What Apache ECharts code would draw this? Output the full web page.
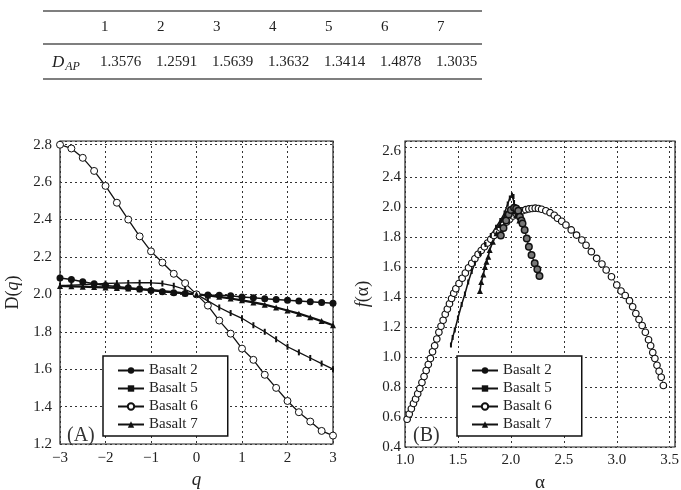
<!DOCTYPE html>
<html>
<head>
<meta charset="utf-8">
<script src="https://cdn.jsdelivr.net/npm/echarts@6/dist/echarts.min.js"></script>
<style>
  body { margin: 0; background: #fff; }
  #chart { width: 681px; height: 490px; }
</style>
</head>
<body>
<div id="chart"></div>
<script>
// table above the plots
const tableCols = ['1', '2', '3', '4', '5', '6', '7']
const dapValues = ['1.3576', '1.2591', '1.5639', '1.3632', '1.3414', '1.4878', '1.3035']

// (A) D(q) against q
const qVals = [-3, -2.75, -2.5, -2.25, -2, -1.75, -1.5, -1.25, -1, -0.75, -0.5, -0.25, 0,
  0.25, 0.5, 0.75, 1, 1.25, 1.5, 1.75, 2, 2.25, 2.5, 2.75, 3]
const dq2 = [2.088, 2.079, 2.067, 2.057, 2.048, 2.042, 2.036, 2.029, 2.021, 2.014, 2.009, 2.005, 2.0,
  1.996, 1.995, 1.993, 1.986, 1.982, 1.977, 1.972, 1.968, 1.964, 1.961, 1.957, 1.953]
const dq5 = [2.046, 2.049, 2.052, 2.055, 2.058, 2.06, 2.061, 2.062, 2.062, 2.058, 2.046, 2.026, 2.0,
  1.965, 1.93, 1.9, 1.872, 1.835, 1.8, 1.76, 1.72, 1.69, 1.66, 1.63, 1.6]
const dq6 = [2.8, 2.78, 2.73, 2.66, 2.58, 2.49, 2.4, 2.31, 2.23, 2.17, 2.11, 2.06, 2.0,
  1.94, 1.86, 1.79, 1.71, 1.65, 1.57, 1.5, 1.43, 1.37, 1.32, 1.27, 1.245]
const dq7 = [2.045, 2.043, 2.041, 2.039, 2.037, 2.034, 2.031, 2.028, 2.024, 2.018, 2.012, 2.006, 2.0,
  1.994, 1.987, 1.978, 1.968, 1.957, 1.945, 1.93, 1.914, 1.897, 1.878, 1.857, 1.835]

// (B) f(alpha) against alpha
const alpha2 = [1.905, 1.93, 1.955, 1.98, 2.0, 2.03, 2.05, 2.07, 2.085, 2.1, 2.11, 2.13, 2.15, 2.17, 2.195, 2.225, 2.25, 2.27]
const fa2 = [1.81, 1.86, 1.91, 1.95, 1.98, 1.995, 1.99, 1.975, 1.935, 1.91, 1.89, 1.847, 1.79, 1.735, 1.68, 1.625, 1.585, 1.54]
const alpha5 = [1.434, 1.45, 1.47, 1.5, 1.535, 1.566, 1.597, 1.63, 1.66, 1.71, 1.76, 1.81, 1.86, 1.9, 1.94, 1.97, 1.99, 2.01, 2.025, 2.03, 2.02]
const fa5 = [1.08, 1.13, 1.18, 1.26, 1.35, 1.42, 1.5, 1.57, 1.625, 1.69, 1.75, 1.81, 1.865, 1.91, 1.96, 2.02, 2.06, 2.08, 2.07, 2.03, 1.99]
const alpha6 = [1.02, 1.04, 1.06, 1.08, 1.1, 1.12, 1.14, 1.16, 1.18, 1.2, 1.22, 1.24, 1.26, 1.28, 1.3, 1.32, 1.34, 1.36,
  1.38, 1.4, 1.42, 1.44, 1.46, 1.48, 1.51, 1.54, 1.57, 1.6, 1.63, 1.66, 1.69, 1.72, 1.75, 1.78, 1.81, 1.84, 1.87,
  1.9, 1.93, 1.96, 1.99, 2.02, 2.05, 2.08, 2.11, 2.14, 2.17, 2.2, 2.23, 2.26, 2.29, 2.33, 2.37, 2.41, 2.44, 2.48,
  2.52, 2.57, 2.62, 2.67, 2.71, 2.76, 2.81, 2.86, 2.9, 2.95, 3.0, 3.04, 3.08, 3.12, 3.15, 3.18, 3.21, 3.24, 3.27,
  3.3, 3.32, 3.34, 3.36, 3.38, 3.4, 3.42, 3.44]
const fa6 = [0.585, 0.62, 0.655, 0.69, 0.72, 0.755, 0.79, 0.83, 0.87, 0.91, 0.95, 0.99, 1.035, 1.075, 1.12, 1.165, 1.205, 1.245,
  1.285, 1.32, 1.355, 1.39, 1.425, 1.455, 1.49, 1.525, 1.56, 1.595, 1.625, 1.655, 1.685, 1.71, 1.735, 1.76, 1.785, 1.81, 1.835,
  1.86, 1.88, 1.9, 1.92, 1.94, 1.955, 1.967, 1.975, 1.982, 1.987, 1.99, 1.992, 1.99, 1.985, 1.975, 1.962, 1.945, 1.925, 1.905,
  1.88, 1.847, 1.813, 1.78, 1.745, 1.702, 1.658, 1.62, 1.58, 1.535, 1.48, 1.44, 1.41, 1.375, 1.335, 1.29, 1.25, 1.21, 1.165,
  1.115, 1.075, 1.03, 0.99, 0.945, 0.905, 0.865, 0.81]
const alpha7 = [1.708, 1.72, 1.74, 1.755, 1.77, 1.786, 1.8, 1.83, 1.865, 1.896, 1.927, 1.96, 1.99, 2.02, 2.05, 2.08]
const fa7 = [1.44, 1.5, 1.55, 1.6, 1.635, 1.669, 1.713, 1.769, 1.825, 1.88, 1.925, 1.958, 1.976, 1.97, 1.947, 1.91]

// mislabelled f(alpha) ticks as printed in the figure
const yTickPosB = [0.4, 0.6, 0.8, 1.0, 1.2, 1.4, 1.6, 1.8, 2.0, 2.2, 2.37]
const yTickLabB = ['0.4', '0.6', '0.8', '1.0', '1.2', '1.4', '1.6', '1.8', '2.0', '2.4', '2.6']

const legendNames = ['Basalt 2', 'Basalt 5', 'Basalt 6', 'Basalt 7']

const serif = '"Liberation Serif", "DejaVu Serif", serif'
const tickMark = 'path://M0,0L1,0L1,4L0,4Z'
const zip = (xs, ys) => xs.map((x, i) => [x, ys[i]])
const minus = v => String(v).replace('-', '\u2212')
const dotted = { show: true, lineStyle: { color: '#333', type: [2, 3], width: 1 } }
const labelStyle = { color: '#222', fontFamily: serif, fontSize: 15 }

const chart = echarts.init(document.getElementById('chart'))

// table built as graphic elements
const tableColX = [100, 156, 212, 268, 324, 380, 436]
const tableGraphics = []
;[11, 44, 79].forEach(y => {
  tableGraphics.push({
    type: 'line',
    shape: { x1: 43, y1: y, x2: 482, y2: y },
    style: { stroke: '#555', lineWidth: 1.5 }
  })
})
tableCols.forEach((c, i) => {
  tableGraphics.push({
    type: 'text', x: tableColX[i] + 1, y: 27,
    style: { text: c, fontFamily: serif, fontSize: 15, fill: '#222', verticalAlign: 'middle' }
  })
  tableGraphics.push({
    type: 'text', x: tableColX[i], y: 62,
    style: { text: dapValues[i], fontFamily: serif, fontSize: 15, fill: '#222', verticalAlign: 'middle' }
  })
})
tableGraphics.push({
  type: 'text', x: 52, y: 53,
  style: {
    text: '{d|D}{s|AP}',
    rich: {
      d: { fontFamily: serif, fontSize: 17, fontStyle: 'italic', fill: '#222' },
      s: { fontFamily: serif, fontSize: 12, fontStyle: 'italic', fill: '#222', padding: [8, 0, 0, 1] }
    }
  }
})
tableGraphics.push({
  type: 'text', x: 67, y: 426,
  style: { text: '(A)', fontFamily: serif, fontSize: 20, fill: '#333' }
})
tableGraphics.push({
  type: 'text', x: 413, y: 426,
  style: { text: '(B)', fontFamily: serif, fontSize: 20, fill: '#333' }
})

const legendBase = {
  orient: 'vertical',
  top: 356,
  data: legendNames,
  selectedMode: false,
  itemWidth: 26,
  itemHeight: 8,
  itemGap: 3,
  padding: [7, 30, 4, 14],
  backgroundColor: '#fff',
  borderColor: '#111',
  borderWidth: 1.5,
  borderRadius: 0,
  textStyle: { color: '#222', fontFamily: serif, fontSize: 15, lineHeight: 15 }
}

const option = {
  animation: false,
  backgroundColor: '#fff',
  graphic: tableGraphics,
  legend: [
    Object.assign({}, legendBase, { left: 103 }),
    Object.assign({}, legendBase, { left: 457 })
  ],
  grid: [
    { left: 60, right: 348, top: 141, bottom: 46, outerBoundsMode: 'none', show: true, borderColor: '#222', borderWidth: 1.2 },
    { left: 405, right: 6, top: 141, bottom: 43, outerBoundsMode: 'none', show: true, borderColor: '#222', borderWidth: 1.2 }
  ],
  xAxis: [
    {
      type: 'value', gridIndex: 0, min: -3, max: 3, interval: 1,
      axisLine: { show: false }, axisTick: { show: false },
      splitLine: dotted,
      axisLabel: Object.assign({ margin: 7, formatter: v => minus(v) }, labelStyle),
      name: 'q', nameLocation: 'middle', nameGap: 24,
      nameTextStyle: { fontFamily: serif, fontSize: 19, fontStyle: 'italic', color: '#222' }
    },
    {
      type: 'value', gridIndex: 1, min: 1.0, max: 3.55, interval: 0.5,
      axisLine: { show: false }, axisTick: { show: false },
      splitLine: dotted,
      axisLabel: Object.assign({ margin: 6, showMaxLabel: false, formatter: v => v.toFixed(1) }, labelStyle),
      name: '\u03b1', nameLocation: 'middle', nameGap: 27,
      nameTextStyle: { fontFamily: serif, fontSize: 19, color: '#222' }
    }
  ],
  yAxis: [
    {
      type: 'value', gridIndex: 0, min: 1.2, max: 2.82, interval: 0.2,
      axisLine: { show: false }, axisTick: { show: false },
      splitLine: dotted,
      axisLabel: Object.assign({ margin: 8, showMaxLabel: false, formatter: v => v.toFixed(1) }, labelStyle),
      name: '{n|D(}{i|q}{n|)}', nameLocation: 'middle', nameGap: 38,
      nameTextStyle: {
        rich: {
          n: { fontFamily: serif, fontSize: 18, color: '#222' },
          i: { fontFamily: serif, fontSize: 18, fontStyle: 'italic', color: '#222' }
        }
      }
    },
    {
      type: 'value', gridIndex: 1, min: 0.4, max: 2.44, interval: 0.2,
      axisLine: { show: false }, axisTick: { show: false },
      splitLine: dotted,
      axisLabel: Object.assign({
        margin: 4,
        customValues: yTickPosB,
        formatter: v => {
          const i = yTickPosB.findIndex(p => Math.abs(p - v) < 1e-6)
          return i >= 0 ? yTickLabB[i] : ''
        }
      }, labelStyle),
      name: '{i|f}{n|(\u03b1)}', nameLocation: 'middle', nameGap: 33,
      nameTextStyle: {
        rich: {
          n: { fontFamily: serif, fontSize: 18, color: '#222' },
          i: { fontFamily: serif, fontSize: 18, fontStyle: 'italic', color: '#222' }
        }
      }
    }
  ],
  series: [
    {
      name: 'Basalt 2', type: 'line', xAxisIndex: 0, yAxisIndex: 0,
      data: zip(qVals, dq2),
      symbol: 'circle', symbolSize: 7, showAllSymbol: true,
      lineStyle: { color: '#111', width: 1.5 },
      itemStyle: { color: '#111' }
    },
    {
      name: 'Basalt 5', type: 'line', xAxisIndex: 0, yAxisIndex: 0,
      data: zip(qVals, dq5),
      symbol: tickMark, symbolSize: [2, 6], showAllSymbol: true,
      lineStyle: { color: '#111', width: 1.3 },
      itemStyle: { color: '#111' }
    },
    {
      name: 'Basalt 6', type: 'line', xAxisIndex: 0, yAxisIndex: 0,
      data: zip(qVals, dq6),
      symbol: 'circle', symbolSize: 7, showAllSymbol: true,
      lineStyle: { color: '#111', width: 1.3 },
      itemStyle: { color: '#fff', borderColor: '#111', borderWidth: 1 }
    },
    {
      name: 'Basalt 7', type: 'line', xAxisIndex: 0, yAxisIndex: 0,
      data: zip(qVals, dq7),
      symbol: 'triangle', symbolSize: 6, showAllSymbol: true,
      lineStyle: { color: '#111', width: 2.2 },
      itemStyle: { color: '#111' }
    },
    {
      name: 'Basalt 6', type: 'line', xAxisIndex: 1, yAxisIndex: 1,
      data: zip(alpha6, fa6),
      symbol: 'circle', symbolSize: 6.5, showAllSymbol: true,
      lineStyle: { color: '#111', width: 0.8 },
      itemStyle: { color: '#fff', borderColor: '#111', borderWidth: 1.2 }
    },
    {
      name: 'Basalt 5', type: 'line', xAxisIndex: 1, yAxisIndex: 1,
      data: zip(alpha5, fa5),
      symbol: tickMark, symbolSize: [2, 5], showAllSymbol: true,
      lineStyle: { color: '#111', width: 1.5 },
      itemStyle: { color: '#111' }
    },
    {
      name: 'Basalt 7', type: 'line', xAxisIndex: 1, yAxisIndex: 1,
      data: zip(alpha7, fa7),
      symbol: 'triangle', symbolSize: 6, showAllSymbol: true,
      lineStyle: { color: '#111', width: 1.6 },
      itemStyle: { color: '#111' }
    },
    {
      name: 'Basalt 2', type: 'line', xAxisIndex: 1, yAxisIndex: 1,
      data: zip(alpha2, fa2),
      symbol: 'circle', symbolSize: 6.5, showAllSymbol: true,
      lineStyle: { color: '#111', width: 1.2 },
      itemStyle: { color: '#777', borderColor: '#111', borderWidth: 1.5 }
    }
  ]
}

chart.setOption(option)
</script>
</body>
</html>
